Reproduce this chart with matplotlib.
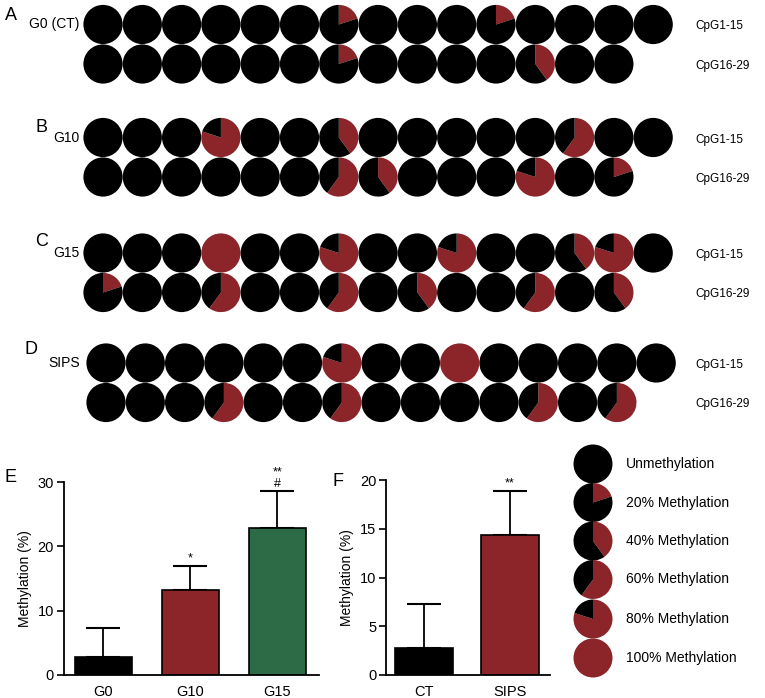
import matplotlib
matplotlib.use("Agg")
import matplotlib.pyplot as plt
from matplotlib.patches import Wedge

plt.rcParams['font.family'] = ['Liberation Sans', 'DejaVu Sans']

# ---------------- data ----------------
# methylation level per CpG site, in units of 20 %
g0_cpg1_15 = [0, 0, 0, 0, 0, 0, 1, 0, 0, 0, 1, 0, 0, 0, 0]
g0_cpg16_29 = [0, 0, 0, 0, 0, 0, 1, 0, 0, 0, 0, 2, 0, 0]
g10_cpg1_15 = [0, 0, 0, 4, 0, 0, 2, 0, 0, 0, 0, 0, 3, 0, 0]
g10_cpg16_29 = [0, 0, 0, 0, 0, 0, 3, 2, 0, 0, 0, 4, 0, 1]
g15_cpg1_15 = [0, 0, 0, 5, 0, 0, 4, 0, 0, 4, 0, 0, 2, 4, 0]
g15_cpg16_29 = [1, 0, 0, 3, 0, 0, 3, 0, 2, 0, 0, 3, 0, 2]
sips_cpg1_15 = [0, 0, 0, 0, 0, 0, 4, 0, 0, 5, 0, 0, 0, 0, 0]
sips_cpg16_29 = [0, 0, 0, 3, 0, 0, 3, 0, 0, 0, 0, 3, 0, 3]

panel_letters = ['A', 'B', 'C', 'D']
panel_groups = ['G0 (CT)', 'G10', 'G15', 'SIPS']
row_labels = ['CpG1-15', 'CpG16-29']

e_groups = ['G0', 'G10', 'G15']
e_means = [2.8, 13.2, 22.8]
e_errs = [4.5, 3.7, 5.8]
e_marks = ['', '*', '**\n#']

f_groups = ['CT', 'SIPS']
f_means = [2.8, 14.4]
f_errs = [4.5, 4.5]
f_marks = ['', '**']

legend_levels = [0, 1, 2, 3, 4, 5]
legend_labels = ['Unmethylation', '20% Methylation', '40% Methylation',
                 '60% Methylation', '80% Methylation', '100% Methylation']

RED = '#8b2529'
GREEN = '#2d6a46'
BLACK = '#000000'

W, H = 765, 698
fig = plt.figure(figsize=(W / 100, H / 100), dpi=100)
ov = fig.add_axes([0, 0, 1, 1])
ov.set_xlim(0, W)
ov.set_ylim(0, H)
ov.axis('off')


def pie(x, y_px, level, r):
    """draw a methylation pie at pixel position (x, y from top)"""
    y = H - y_px
    f = level / 5.0
    if f <= 0:
        ov.add_patch(Wedge((x, y), r, 0, 360, facecolor=BLACK, linewidth=0))
    elif f >= 1:
        ov.add_patch(Wedge((x, y), r, 0, 360, facecolor=RED, linewidth=0))
    else:
        ov.add_patch(Wedge((x, y), r, 90 - 360 * f, 90, facecolor=RED, linewidth=0))
        ov.add_patch(Wedge((x, y), r, 90, 450 - 360 * f, facecolor=BLACK, linewidth=0))


def txt(x, y_px, s, **kw):
    ov.text(x, H - y_px, s, **kw)


panels = [(g0_cpg1_15, g0_cpg16_29), (g10_cpg1_15, g10_cpg16_29),
          (g15_cpg1_15, g15_cpg16_29), (sips_cpg1_15, sips_cpg16_29)]
row1_y = [24.5, 137.5, 253, 363]
x0s = [103, 103, 103, 106]
dx = 39.3
dy = 39.5
rad = 19.6
letter_pos = [(5, 15), (36, 127), (35, 242), (25, 350)]
group_pos = [(79, 24), (80, 138), (80, 253), (80, 363)]

for i, (rows, y1, x0) in enumerate(zip(panels, row1_y, x0s)):
    for j, row in enumerate(rows):
        yc = y1 + j * dy
        for k, lev in enumerate(row):
            pie(x0 + k * dx, yc, lev, rad)
        txt(695, yc + 2, row_labels[j], fontsize=8.5, ha='left', va='center')
    lx, ly = letter_pos[i]
    txt(lx, ly, panel_letters[i], fontsize=13, ha='left', va='center')
    gx, gy = group_pos[i]
    txt(gx, gy, panel_groups[i], fontsize=10, ha='right', va='center')

# legend
leg_y = [464, 502.5, 541, 579.5, 619, 658]
for lev, lab, yc in zip(legend_levels, legend_labels, leg_y):
    pie(593, yc, lev, 19.5)
    txt(626, yc, lab, fontsize=10, ha='left', va='center')

txt(5, 478, 'E', fontsize=13, ha='left', va='center')
txt(333, 482, 'F', fontsize=13, ha='left', va='center')


def bar_axes(left, right, top, bottom, groups, means, errs, marks, colors,
             ylim, yticks, xlim, width):
    ax = fig.add_axes([left / W, (H - bottom) / H, (right - left) / W,
                       (bottom - top) / H])
    ax.patch.set_alpha(0)
    xs = list(range(len(groups)))
    ax.errorbar(xs, means, yerr=[[0] * len(errs), errs], fmt='none',
                ecolor='black', elinewidth=1.3, capsize=12, capthick=1.5,
                zorder=1)
    ax.bar(xs, means, width=width, color=colors, edgecolor='black',
           linewidth=1.2, zorder=2)
    for x, m, e, mk in zip(xs, means, errs, marks):
        if mk:
            ax.annotate(mk, xy=(x, m + e), xytext=(0, 1), textcoords='offset points',
                        ha='center', va='bottom', fontsize=9, linespacing=0.95)
    ax.set_ylim(*ylim)
    ax.set_xlim(*xlim)
    ax.set_yticks(yticks)
    ax.set_xticks(xs)
    ax.set_xticklabels(groups, fontsize=10.5)
    ax.tick_params(axis='y', labelsize=10.5, length=5, width=1.2, direction='out', pad=2)
    ax.tick_params(axis='x', length=0, pad=7)
    for s in ['top', 'right']:
        ax.spines[s].set_visible(False)
    for s in ['left', 'bottom']:
        ax.spines[s].set_linewidth(1.3)
    ax.set_ylabel('Methylation (%)', fontsize=10, labelpad=4)
    return ax


e_top_vals = [m + e for m, e in zip(e_means, e_errs)]
bar_axes(63.5, 319, 482, 675, e_groups, e_means, e_errs, e_marks,
         [BLACK, RED, GREEN], (0, 30), [0, 10, 20, 30], (-0.46, 2.48), 0.65)
bar_axes(386, 550, 480, 675, f_groups, f_means, f_errs, f_marks,
         [BLACK, RED], (0, 20), [0, 5, 10, 15, 20], (-0.45, 1.47), 0.68)

fig.savefig('out.png', dpi=100)
